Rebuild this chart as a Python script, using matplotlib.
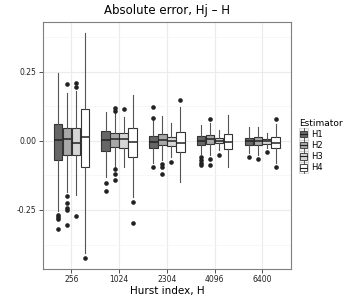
import matplotlib
matplotlib.use("Agg")
import matplotlib.pyplot as plt
from matplotlib.legend_handler import HandlerBase
from matplotlib.patches import Rectangle, Patch
from matplotlib.lines import Line2D
import numpy as np

categories = ["256", "1024", "2304", "4096", "6400"]
estimators = ["H1", "H2", "H3", "H4"]
fills = ["#666666", "#a8a8a8", "#d6d6d6", "#ffffff"]

# stats per estimator per category: (whislo, q1, med, q3, whishi)
H1_stats = [(-0.254, -0.070, 0.002, 0.060, 0.245),
            (-0.129, -0.035, 0.002, 0.036, 0.106),
            (-0.081, -0.024, -0.004, 0.019, 0.076),
            (-0.048, -0.014, 0.001, 0.018, 0.058),
            (-0.045, -0.014, -0.002, 0.010, 0.050)]
H2_stats = [(-0.184, -0.051, 0.006, 0.046, 0.173),
            (-0.093, -0.023, 0.006, 0.030, 0.100),
            (-0.069, -0.014, 0.004, 0.025, 0.091),
            (-0.051, -0.012, 0.006, 0.021, 0.064),
            (-0.051, -0.014, 0.001, 0.013, 0.050)]
H3_stats = [(-0.196, -0.051, -0.006, 0.046, 0.182),
            (-0.093, -0.027, 0.006, 0.027, 0.088),
            (-0.057, -0.019, -0.001, 0.013, 0.064),
            (-0.033, -0.008, 0.001, 0.012, 0.040),
            (-0.027, -0.010, -0.001, 0.006, 0.028)]
H4_stats = [(-0.406, -0.095, 0.013, 0.116, 0.392),
            (-0.202, -0.059, -0.004, 0.046, 0.167),
            (-0.147, -0.039, -0.008, 0.034, 0.124),
            (-0.093, -0.030, -0.004, 0.024, 0.094),
            (-0.079, -0.027, -0.006, 0.013, 0.062)]
H1_out = [[-0.268, -0.274, -0.284, -0.320], [-0.151, -0.181], [0.123, 0.084, -0.095],
          [-0.059, -0.069, -0.079, -0.088], [-0.057]]
H2_out = [[0.205, -0.198, -0.223, -0.242, -0.251, -0.303], [0.118, 0.110, -0.103, -0.121, -0.141],
          [-0.083, -0.093, -0.120], [0.079, -0.066, -0.088], [-0.065]]
H3_out = [[0.211, 0.197, -0.270], [0.115], [-0.075], [-0.051], [-0.039]]
H4_out = [[-0.425], [-0.222, -0.298], [0.149], [], [0.079, -0.093]]

all_stats = [H1_stats, H2_stats, H3_stats, H4_stats]
all_out = [H1_out, H2_out, H3_out, H4_out]

fig = plt.figure(figsize=(3.6, 3.0), dpi=100)
ax = fig.add_axes([0.119, 0.103, 0.689, 0.824])

dodge = 0.75
w = dodge / 4
edge = "#333333"
for j in range(4):
    stats = []
    for i in range(len(categories)):
        lo, q1, med, q3, hi = all_stats[j][i]
        stats.append(dict(whislo=lo, q1=q1, med=med, q3=q3, whishi=hi,
                          fliers=np.array(all_out[j][i])))
    pos = [i - dodge / 2 + w * (j + 0.5) for i in range(len(categories))]
    ax.bxp(stats, positions=pos, widths=w * 0.95, patch_artist=True, showcaps=False,
           boxprops=dict(facecolor=fills[j], edgecolor=edge, linewidth=0.8),
           medianprops=dict(color="#222222", linewidth=1.1),
           whiskerprops=dict(color="#555555", linewidth=0.8),
           flierprops=dict(marker="o", markerfacecolor="#222222", markeredgecolor="#222222",
                           markersize=2.3, linestyle="none"),
           manage_ticks=False, zorder=3)

ax.set_xlim(-0.6, len(categories) - 0.4)
ax.set_ylim(-0.464, 0.431)
ax.set_xticks(range(len(categories)))
ax.set_xticklabels(categories)
ax.set_yticks([-0.25, 0, 0.25])
ax.set_yticklabels(["-0.25", "0.00", "0.25"])
ax.set_yticks([-0.375, -0.125, 0.125, 0.375], minor=True)
ax.grid(True, which="major", color="#ebebeb", linewidth=0.8, zorder=0)
ax.grid(True, which="minor", axis="y", color="#f4f4f4", linewidth=0.5, zorder=0)
ax.set_axisbelow(True)
for s in ax.spines.values():
    s.set_color("#7f7f7f")
    s.set_linewidth(0.8)
ax.tick_params(which="major", length=3, width=0.6, color="#333333", labelsize=5.5,
               labelcolor="#222222", pad=1.5)
ax.tick_params(which="minor", length=0)
ax.set_xlabel("Hurst index, H", fontsize=7.5, labelpad=1)
ax.set_title("Absolute error, Hj \u2013 H", fontsize=8.5, pad=6)


class BoxHandler(HandlerBase):
    def create_artists(self, legend, orig_handle, xdescent, ydescent, width, height, fontsize, trans):
        cx = -xdescent + width / 2
        cy = -ydescent + height / 2
        bg = Rectangle((-xdescent, -ydescent - 1), width, height + 2, facecolor="#f2f2f2",
                       edgecolor="#cccccc", linewidth=0.5, transform=trans)
        vl = Line2D([cx, cx], [-ydescent - 1, -ydescent + height + 1], color="#444444",
                    linewidth=0.6, transform=trans)
        bw = width * 0.75
        bh = height * 0.75
        box = Rectangle((cx - bw / 2, cy - bh / 2), bw, bh, facecolor=orig_handle.get_facecolor(),
                        edgecolor=edge, linewidth=0.6, transform=trans)
        med = Line2D([cx - bw / 2, cx + bw / 2], [cy, cy], color="#222222", linewidth=0.8,
                     transform=trans)
        return [bg, vl, box, med]


handles = [Patch(facecolor=f) for f in fills]
leg = ax.legend(handles, estimators, title="Estimator", loc="center left",
                bbox_to_anchor=(1.01, 0.5), frameon=False, fontsize=6, title_fontsize=6.5,
                handler_map={Patch: BoxHandler()}, handlelength=1.1, handleheight=1.2,
                handletextpad=0.3, labelspacing=0.25, borderaxespad=0.3)
leg._legend_box.align = "left"

fig.savefig("out.png", dpi=100)
